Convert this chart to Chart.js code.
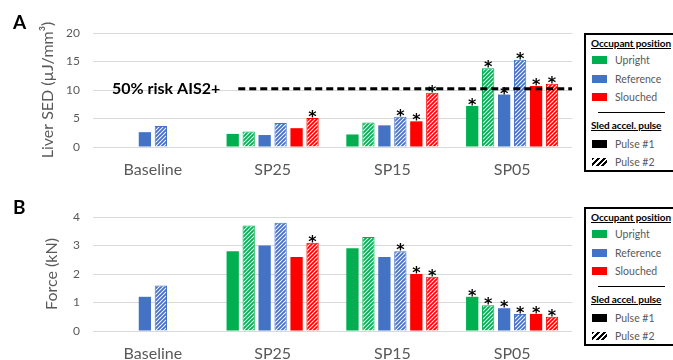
<!DOCTYPE html>
<html>
<head>
<meta charset="utf-8">
<script src="https://cdn.jsdelivr.net/npm/chart.js@4.4.1/dist/chart.umd.min.js"></script>
<style>
body { margin: 0; width: 673px; height: 360px; overflow: hidden; background: #fff; position: relative; font-family: Lato, sans-serif; }
canvas { position: absolute; left: 0; }
.panel-tag { position: absolute; left: 13px; font: bold 19px/19px Lato, sans-serif; color: #000; }
.legend { position: absolute; left: 584px; width: 100px; height: 135px; border: 2px solid #000; }
.legend div { position: absolute; white-space: nowrap; font-size: 10.5px; line-height: 14px; }
.legend .head { left: 5px; font-size: 10px; font-weight: bold; text-decoration: underline; color: #000; letter-spacing: -0.1px; }
.legend .txt { left: 29px; color: #595959; }
.legend .sw { left: 6px; width: 15px; height: 8px; }
.legend .sep { left: 12px; width: 67px; height: 0; border-top: 1.5px solid #000; }
</style>
</head>
<body>
<canvas id="chartA" width="580" height="180" style="top:0"></canvas>
<canvas id="chartB" width="580" height="180" style="top:180px"></canvas>
<div class="panel-tag" style="top:12px">A</div>
<div class="panel-tag" style="top:197px">B</div>
<div class="legend" id="legendA" style="top:33px"></div>
<div class="legend" id="legendB" style="top:207px"></div>
<script>
const categories = ["Baseline", "SP25", "SP15", "SP05"];
const groupNames = ["Upright", "Reference", "Slouched"];
const groupColors = ["#00b050", "#4472c4", "#ff0000"];
const pulseNames = ["Pulse #1", "Pulse #2"];

// Panel A: liver SED, series order = Upright P1, Upright P2, Reference P1, Reference P2, Slouched P1, Slouched P2
const sedUprightP1 = [null, 2.3, 2.2, 7.2];
const sedUprightP2 = [null, 2.7, 4.3, 13.8];
const sedReferenceP1 = [2.6, 2.1, 3.8, 9.2];
const sedReferenceP2 = [3.7, 4.2, 5.3, 15.3];
const sedSlouchedP1 = [null, 3.3, 4.5, 10.7];
const sedSlouchedP2 = [null, 5.1, 9.5, 11.1];
const sedTicks = [0, 5, 10, 15, 20];
const sedRisk = 10.2;
const sedRiskLabel = "50% risk AIS2+";
const sedTitle = "Liver SED (\u00b5J/mm\u00b3)";
// 1 = significance asterisk above the bar
const sedStars = [[0,0,0,1], [0,0,0,1], [0,0,0,1], [0,0,1,1], [0,0,1,1], [0,1,1,1]];

// Panel B: force
const forceUprightP1 = [null, 2.8, 2.9, 1.2];
const forceUprightP2 = [null, 3.7, 3.3, 0.9];
const forceReferenceP1 = [1.2, 3.0, 2.6, 0.8];
const forceReferenceP2 = [1.6, 3.8, 2.8, 0.6];
const forceSlouchedP1 = [null, 2.6, 2.0, 0.6];
const forceSlouchedP2 = [null, 3.1, 1.9, 0.5];
const forceTicks = [0, 1, 2, 3, 4];
const forceTitle = "Force (kN)";
const forceStars = [[0,0,0,1], [0,0,0,1], [0,0,0,1], [0,0,1,1], [0,0,1,1], [0,1,1,1]];

function hatch(color) {
    const c = document.createElement("canvas");
    c.width = 4; c.height = 4;
    const g = c.getContext("2d");
    g.fillStyle = "#fff";
    g.fillRect(0, 0, 4, 4);
    g.strokeStyle = color;
    g.lineWidth = 1.9;
    g.beginPath();
    g.moveTo(-1, 5); g.lineTo(5, -1);
    g.moveTo(-1, 1); g.lineTo(1, -1);
    g.moveTo(3, 5); g.lineTo(5, 3);
    g.stroke();
    return g.createPattern(c, "repeat");
}

function buildDatasets(series) {
    return series.map((vals, i) => {
        const col = groupColors[Math.floor(i / 2)];
        const second = i % 2 == 1;
        return {
            label: groupNames[Math.floor(i / 2)] + " " + pulseNames[i % 2],
            data: vals,
            backgroundColor: second ? hatch(col) : col,
            borderColor: col,
            borderWidth: second ? 1 : 0,
            categoryPercentage: 0.8,
            barPercentage: 0.77
        };
    });
}

function starPlugin(marks) {
    return {
        id: "stars",
        afterDatasetsDraw(chart) {
            const ctx = chart.ctx;
            ctx.save();
            ctx.font = "bold 16px 'DejaVu Sans'";
            ctx.fillStyle = "#000";
            ctx.textAlign = "center";
            ctx.textBaseline = "alphabetic";
            marks.forEach((row, i) => {
                chart.getDatasetMeta(i).data.forEach((bar, j) => {
                    if (row[j]) ctx.fillText("*", bar.x, bar.y + 4);
                });
            });
            ctx.restore();
        }
    };
}

// dashed risk threshold with its label, panel A only
const riskPlugin = {
    id: "risk",
    afterDatasetsDraw(chart) {
        const y = chart.scales.y.getPixelForValue(sedRisk);
        const ctx = chart.ctx;
        const x = chart.chartArea.left + 19;
        ctx.save();
        ctx.font = "bold 16px Lato";
        ctx.fillStyle = "#000";
        ctx.textBaseline = "middle";
        ctx.fillText(sedRiskLabel, x, y);
        const x0 = x + ctx.measureText(sedRiskLabel).width + 18;
        ctx.setLineDash([7, 4]);
        ctx.lineWidth = 3;
        ctx.strokeStyle = "#000";
        ctx.beginPath();
        ctx.moveTo(x0, y);
        ctx.lineTo(chart.chartArea.right, y);
        ctx.stroke();
        ctx.restore();
    }
};

function makeChart(id, series, marks, title, ticks, top, bottom, titlePad, extra) {
    return new Chart(document.getElementById(id), {
        type: "bar",
        data: { labels: categories, datasets: buildDatasets(series) },
        options: {
            responsive: false,
            animation: false,
            layout: { padding: { top: top, right: 8, left: 0, bottom: 0 } },
            plugins: { legend: { display: false }, tooltip: { enabled: false } },
            scales: {
                x: {
                    grid: { display: false, drawTicks: false },
                    border: { display: false },
                    ticks: { color: "#595959", font: { family: "Lato", size: 16 }, padding: 13 },
                    afterFit: s => { s.height = 180 - bottom; }
                },
                y: {
                    min: ticks[0],
                    max: ticks[ticks.length - 1],
                    afterBuildTicks: s => { s.ticks = ticks.map(v => ({ value: v })); },
                    grid: { color: "#d9d9d9", drawTicks: false },
                    border: { display: false },
                    ticks: { color: "#595959", font: { family: "Lato", size: 12 }, padding: 13 },
                    title: { display: true, text: title, color: "#595959", font: { family: "Lato", size: 16 }, padding: { top: titlePad, bottom: 0 } },
                    afterFit: s => { s.width = 93; }
                }
            }
        },
        plugins: [starPlugin(marks)].concat(extra)
    });
}

function buildLegend(id) {
    const box = document.getElementById(id);
    let html = '<div class="head" style="top:1px">Occupant position</div>';
    const rowY = [25, 43.5, 62];
    groupNames.forEach((name, i) => {
        html += '<div class="sw" style="top:' + (rowY[i] - 4) + 'px;background:' + groupColors[i] + '"></div>';
        html += '<div class="txt" style="top:' + (rowY[i] - 7) + 'px">' + name + '</div>';
    });
    html += '<div class="sep" style="top:77px"></div>';
    html += '<div class="head" style="top:83px">Sled accel. pulse</div>';
    html += '<div class="sw" style="top:104.5px;background:#000"></div>';
    html += '<div class="txt" style="top:101.5px">' + pulseNames[0] + '</div>';
    html += '<div class="sw" style="top:123px;background:repeating-linear-gradient(135deg,#000 0 2px,#fff 2px 4px)"></div>';
    html += '<div class="txt" style="top:120px">' + pulseNames[1] + '</div>';
    box.innerHTML = html;
}

makeChart("chartA",
    [sedUprightP1, sedUprightP2, sedReferenceP1, sedReferenceP2, sedSlouchedP1, sedSlouchedP2],
    sedStars, sedTitle, sedTicks, 33, 147, 38, [riskPlugin]);
makeChart("chartB",
    [forceUprightP1, forceUprightP2, forceReferenceP1, forceReferenceP2, forceSlouchedP1, forceSlouchedP2],
    forceStars, forceTitle, forceTicks, 37, 151, 42, []);
buildLegend("legendA");
buildLegend("legendB");
</script>
</body>
</html>
